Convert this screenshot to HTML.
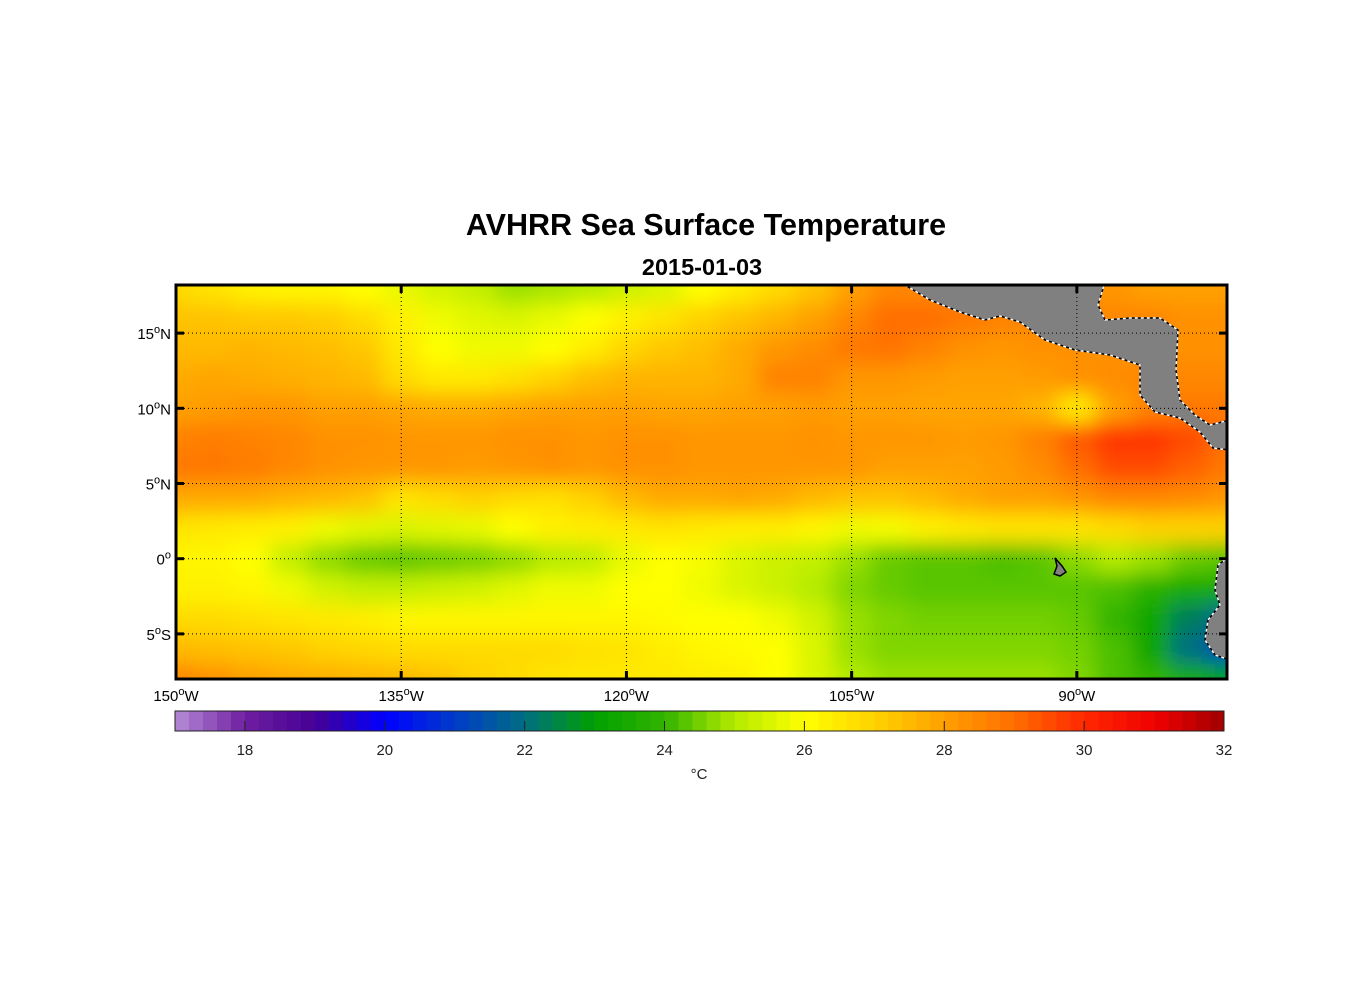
<!DOCTYPE html>
<html><head><meta charset="utf-8"><style>
body{margin:0;background:#fff;}
svg{display:block;font-family:"Liberation Sans",Arial,sans-serif;}
</style></head><body>
<svg id="chart" width="1356" height="1000" viewBox="0 0 1356 1000" xmlns="http://www.w3.org/2000/svg">
<defs>
<clipPath id="plotclip"><rect x="176" y="285" width="1051" height="394"/></clipPath>
<filter id="blur" x="-10%" y="-20%" width="120%" height="140%"><feGaussianBlur stdDeviation="10"/></filter>
</defs>
<text x="706" y="235" text-anchor="middle" font-size="30.5" font-weight="bold">AVHRR Sea Surface Temperature</text>
<text x="702" y="275" text-anchor="middle" font-size="23.5" font-weight="bold">2015-01-03</text>
<g id="field" clip-path="url(#plotclip)"><g id="cells" filter="url(#blur)"></g></g>
<g id="land" clip-path="url(#plotclip)">
<g stroke="#000" stroke-width="1.5" fill="#808080">
<polygon points="900,282 930,300 960,312 985,320 1000,316 1020,322 1045,340 1075,350 1110,355 1140,365 1140,395 1155,412 1180,418 1200,432 1213,448 1230,450 1230,420 1210,425 1195,415 1180,400 1176,370 1178,330 1160,318 1130,318 1105,320 1098,305 1105,282"/>
<polygon points="1230,556 1218,565 1215,590 1220,605 1208,620 1205,640 1215,655 1230,660"/>
<polygon points="1055,558 1062,566 1066,572 1060,576 1054,574 1057,566"/>
</g>
<g stroke="#fff" stroke-width="1.5" stroke-dasharray="3,3" fill="none">
<polyline points="900,282 930,300 960,312 985,320 1000,316 1020,322 1045,340 1075,350 1110,355 1140,365 1140,395 1155,412 1180,418 1200,432 1213,448 1230,450"/>
<polyline points="1230,420 1210,425 1195,415 1180,400 1176,370 1178,330 1160,318 1130,318 1105,320 1098,305 1105,282"/>
<polyline points="1230,556 1218,565 1215,590 1220,605 1208,620 1205,640 1215,655 1230,660"/>
</g>
</g>
<g id="grid"></g>
<rect x="176" y="285" width="1051" height="394" fill="none" stroke="#000" stroke-width="3"/>
<g id="axes"></g>
<g id="colorbar"></g>
<text x="699" y="779" text-anchor="middle" font-size="15" fill="#222">°C</text>
</svg>
<script>
const lons = [-150,-147.5,-145,-142.5,-140,-137.5,-135,-132.5,-130,-127.5,-125,-122.5,-120,-117.5,-115,-112.5,-110,-107.5,-105,-102.5,-100,-97.5,-95,-92.5,-90,-87.5,-85,-82.5,-80];
const lats = [18,16,14,12,10,8,6,4,2,0,-2,-4,-6,-8];
const sst = [
[26.8,26.6,26.3,26.2,26.2,26.0,25.7,25.4,25.2,24.8,24.9,25.0,25.3,25.5,26.0,26.4,26.8,27.3,28.0,28.5,28.5,28.5,28.5,28.5,28.3,28.2,28.0,28.0,28.0],
[27.3,27.3,27.2,27.2,27.1,26.8,26.3,25.8,25.6,25.5,25.7,26.0,26.3,26.6,27.0,27.3,27.6,28.0,28.5,29.0,29.0,28.8,28.6,28.5,28.5,28.5,28.5,28.3,28.3],
[27.5,27.5,27.6,27.5,27.4,27.2,26.5,26.0,25.8,25.8,26.0,26.4,26.9,27.2,27.4,27.8,28.2,28.4,28.8,28.9,28.6,28.3,28.2,28.3,28.3,28.3,28.3,28.3,28.3],
[27.8,27.9,27.8,27.7,27.6,27.5,26.8,26.5,26.5,26.7,27.0,27.4,27.6,27.6,27.6,27.8,28.6,28.6,28.2,28.2,28.1,28.0,28.0,28.1,28.3,28.4,28.5,28.5,28.5],
[28.0,28.1,28.2,28.2,28.0,28.0,27.9,27.8,27.8,27.9,28.0,28.0,28.0,27.9,27.9,28.0,28.0,28.1,28.0,28.0,27.9,27.9,27.9,27.6,26.5,28.0,28.6,28.8,28.8],
[28.6,28.7,28.6,28.5,28.3,28.3,28.2,28.2,28.2,28.3,28.3,28.2,28.3,28.3,28.2,28.2,28.2,28.3,28.2,28.2,28.2,28.1,28.2,28.6,29.3,29.8,29.8,29.5,29.0],
[28.8,28.8,28.7,28.5,28.3,28.2,28.2,28.2,28.1,28.2,28.3,28.2,28.3,28.3,28.2,28.2,28.2,28.2,28.2,28.0,28.0,28.0,28.1,28.4,29.0,29.5,29.5,29.2,28.8],
[27.8,27.8,27.8,27.6,27.5,27.3,26.6,26.8,27.0,26.8,26.7,27.0,27.5,27.8,27.8,27.9,27.8,27.5,27.3,27.3,27.5,27.8,28.0,28.0,28.2,28.5,28.5,28.4,28.2],
[26.6,26.5,26.4,26.3,25.8,25.6,25.5,25.6,25.7,26.0,26.3,26.4,26.5,26.6,26.5,26.4,26.4,26.2,25.8,25.9,26.3,26.5,26.6,26.6,26.6,26.8,27.0,27.0,27.0],
[26.2,26.2,26.0,25.2,24.7,24.4,24.3,24.4,24.5,24.7,25.0,25.1,25.7,26.0,25.9,25.5,25.3,25.2,24.8,24.4,24.3,24.3,24.2,24.3,24.7,25.0,24.8,24.4,24.3],
[26.3,26.3,26.2,25.8,25.4,25.2,25.2,25.3,25.4,25.6,25.8,25.8,26.0,26.0,25.8,25.5,25.3,25.0,24.6,24.4,24.3,24.3,24.3,24.3,24.3,24.2,23.8,23.5,23.5],
[26.8,26.8,26.7,26.6,26.5,26.4,26.2,26.2,26.2,26.2,26.2,26.2,26.2,26.1,26.0,26.0,25.8,25.4,24.8,24.6,24.5,24.5,24.5,24.5,24.4,24.0,23.3,22.3,21.8],
[27.5,27.4,27.3,27.2,27.0,26.9,26.8,26.8,26.8,26.8,26.8,26.7,26.6,26.4,26.2,26.1,26.0,25.5,24.8,24.6,24.6,24.6,24.6,24.6,24.5,24.2,23.2,22.0,21.2],
[28.5,28.3,28.0,27.8,27.7,27.6,27.5,27.3,27.0,26.8,26.6,26.5,26.5,26.5,26.4,26.3,26.0,25.5,25.0,24.8,24.8,24.8,24.8,24.8,24.6,24.2,24.0,23.5,23.0]
];
const lonTicks = [-150,-135,-120,-105,-90];
const lonTickLabels = ["150","135","120","105","90"];
const latTicks = [15,10,5,0,-5];
const latTickLabels = ["15","10","5","0","5"];
const latHemi = ["N","N","N","",'S'];
const cbarTicks = [18,20,22,24,26,28,30,32];

const NS="http://www.w3.org/2000/svg";
const X0=176,X1=1227,Y0=285,Y1=679;
const LON0=-150,LON1=-80,LAT0=18.2,LAT1=-8;
const x = lon => X0 + (lon-LON0)/(LON1-LON0)*(X1-X0);
const y = lat => Y0 + (LAT0-lat)/(LAT0-LAT1)*(Y1-Y0);
const CB0=17,CB1=32,CBX0=175,CBX1=1224;
const cx = v => CBX0 + (v-CB0)/(CB1-CB0)*(CBX1-CBX0);
const stops=[[17,[182,140,214]],[18,[110,30,160]],[19,[70,0,150]],[20,[0,0,255]],[21,[0,60,200]],[22,[0,110,130]],[23,[0,160,0]],[24,[50,180,0]],[25,[180,235,0]],[26,[255,255,0]],[27,[255,210,0]],[28,[255,160,0]],[29,[255,110,0]],[30,[255,40,0]],[31,[240,0,0]],[32,[160,0,0]]];
function color(v){
  if(v<=stops[0][0])return `rgb(${stops[0][1]})`;
  for(let i=1;i<stops.length;i++){ if(v<=stops[i][0]){const a=stops[i-1],b=stops[i];const t=(v-a[0])/(b[0]-a[0]);
    return 'rgb('+a[1].map((c,k)=>Math.round(c+(b[1][k]-c)*t)).join(',')+')';}}
  return `rgb(${stops[stops.length-1][1]})`;
}
function mk(tag,attrs,parent){const e=document.createElementNS(NS,tag);for(const k in attrs)e.setAttribute(k,attrs[k]);parent.appendChild(e);return e;}

const cells=document.getElementById('cells');
const dx=x(lons[1])-x(lons[0]), dy=y(lats[1])-y(lats[0]);
lats.forEach((la,i)=>lons.forEach((lo,j)=>{
  let l=x(lo)-dx/2, r=x(lo)+dx/2, t=y(la)-dy/2, b=y(la)+dy/2;
  if(j===0)l-=50; if(j===lons.length-1)r+=50; if(i===0)t-=50; if(i===lats.length-1)b+=50;
  const e=mk('rect',{x:l,y:t,width:r-l+0.5,height:b-t+0.5,fill:color(sst[i][j])},cells);
  
  
}));

const grid=document.getElementById('grid'), axes=document.getElementById('axes');
lonTicks.forEach((lo,i)=>{
  const px=x(lo);
  if(i>0){const g=mk('line',{x1:px,x2:px,y1:Y0,y2:Y1,stroke:'#000','stroke-width':1,'stroke-dasharray':'1,3'},grid);
    
    mk('line',{x1:px,x2:px,y1:Y0,y2:Y0+8,stroke:'#000','stroke-width':3},axes);
    mk('line',{x1:px,x2:px,y1:Y1-8,y2:Y1,stroke:'#000','stroke-width':3},axes);}
  const t=mk('text',{x:px,y:701,'text-anchor':'middle','font-size':15},axes);
  
  t.innerHTML=lonTickLabels[i]+'<tspan dy="-6" font-size="11">o</tspan><tspan dy="6">W</tspan>';
});
latTicks.forEach((la,i)=>{
  const py=y(la);
  const g=mk('line',{x1:X0,x2:X1,y1:py,y2:py,stroke:'#000','stroke-width':1,'stroke-dasharray':'1,3'},grid);
  
  mk('line',{x1:X0,x2:X0+8,y1:py,y2:py,stroke:'#000','stroke-width':3},axes);
  mk('line',{x1:X1-8,x2:X1,y1:py,y2:py,stroke:'#000','stroke-width':3},axes);
  const t=mk('text',{x:171,y:py+6,'text-anchor':'end','font-size':15},axes);
  
  t.innerHTML=latTickLabels[i]+'<tspan dy="-6" font-size="11">o</tspan><tspan dy="6">'+latHemi[i]+'</tspan>';
});

const cb=document.getElementById('colorbar');
for(let v=CB0;v<CB1-0.001;v+=0.2){
  const e=mk('rect',{x:cx(v),y:711,width:cx(v+0.2)-cx(v)+0.3,height:20,fill:color(v+0.1)},cb);
  
}
mk('rect',{x:CBX0,y:711,width:CBX1-CBX0,height:20,fill:'none',stroke:'#222','stroke-width':1},cb);
cbarTicks.forEach(v=>{
  mk('line',{x1:cx(v),x2:cx(v),y1:721,y2:731,stroke:'#222','stroke-width':1},cb);
  const t=mk('text',{x:cx(v),y:755,'text-anchor':'middle','font-size':15,fill:'#222'},cb);
  
  t.textContent=v;
});
</script>
</body></html>
